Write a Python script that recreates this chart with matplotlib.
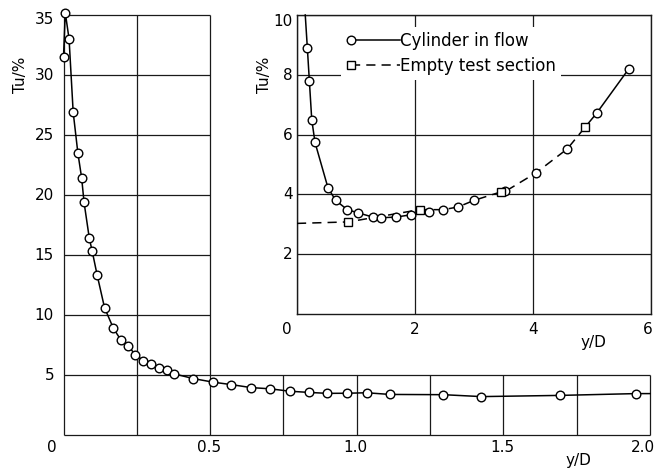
import numpy as np
import matplotlib
matplotlib.use("Agg")
import matplotlib.pyplot as plt
import matplotlib.transforms as mtransforms
from matplotlib.lines import Line2D
from matplotlib.legend_handler import HandlerLine2D

plt.rcParams['font.family'] = ['DejaVu Sans']
plt.rcParams['font.size'] = 11

# ---------------- data: main plot (Tu vs y/D) ----------------
main_x = [0.0, 0.006, 0.019, 0.033, 0.049, 0.062, 0.070, 0.088, 0.098, 0.115,
          0.140, 0.170, 0.196, 0.221, 0.245, 0.272, 0.298, 0.327, 0.354, 0.377,
          0.443, 0.511, 0.572, 0.640, 0.704, 0.771, 0.836, 0.900, 0.967, 1.034,
          1.113, 1.295, 1.425, 1.693, 1.952]
main_y = [31.5, 35.2, 33.0, 26.9, 23.5, 21.4, 19.4, 16.4, 15.3, 13.3,
          10.6, 8.9, 7.9, 7.4, 6.7, 6.2, 5.9, 5.55, 5.4, 5.1,
          4.7, 4.4, 4.2, 3.95, 3.85, 3.65, 3.55, 3.47, 3.48, 3.52,
          3.38, 3.36, 3.2, 3.3, 3.45]
main_curve_end_x = [2.0]
main_curve_end_y = [3.45]
main_xticks = [0, 0.5, 1.0, 1.5, 2.0]
main_xticklabels = ['0', '0.5', '1.0', '1.5', '2.0']
main_yticks = [5, 10, 15, 20, 25, 30, 35]
main_yticklabels = ['5', '10', '15', '20', '25', '30', '35']

# ---------------- data: inset ----------------
cyl_x = [0.175, 0.21, 0.25, 0.305, 0.525, 0.655, 0.852, 1.04, 1.29, 1.42, 1.67,
         1.94, 2.23, 2.48, 2.73, 3.0, 3.53, 4.05, 4.58, 5.08, 5.62]
cyl_y = [8.91, 7.78, 6.5, 5.74, 4.22, 3.8, 3.49, 3.38, 3.24, 3.22, 3.24,
         3.32, 3.41, 3.49, 3.58, 3.8, 4.1, 4.72, 5.52, 6.72, 8.19]
cyl_curve_top = (0.14, 10.0)      # where the solid curve enters the inset frame
empty_x = [0.87, 2.08, 3.45, 4.88]
empty_y = [3.08, 3.49, 4.08, 6.24]
empty_curve_start = (0.0, 3.03)   # dashed curve at the left edge
inset_xticks = [0, 2, 4, 6]
inset_xticklabels = ['0', '2', '4', '6']
inset_yticks = [2, 4, 6, 8, 10]
inset_yticklabels = ['2', '4', '6', '8', '10']

W, H = 660, 468
fig = plt.figure(figsize=(W / 100, H / 100), dpi=100)


def fig_px(x, y):
    return x / W, 1 - y / H


GRID_KW = dict(color='0.1', lw=0.9, clip_on=False, zorder=1)

# ---------------- main axes ----------------
ax = fig.add_axes([63.5 / W, 1 - 435 / H, 586.5 / W, 420 / H])
ax.set_xlim(0, 2)
ax.set_ylim(0, 35)
ax.axis('off')

# L-shaped frame + grid
ax.vlines([0, 0.25, 0.5], 0, 35, **GRID_KW)
ax.vlines([0.75, 1.0, 1.25, 1.5, 1.75, 2.0], 0, 5, **GRID_KW)
ax.hlines([10, 15, 20, 25, 30, 35], 0, 0.5, **GRID_KW)
ax.hlines([0, 5], 0, 2, **GRID_KW)

ax.plot(main_x + main_curve_end_x, main_y + main_curve_end_y, color='k',
        lw=1.1, zorder=3, clip_on=False)
ax.plot(main_x, main_y, ls='none', marker='o', ms=6.2, mfc='white', mec='k',
        mew=1.0, zorder=4, clip_on=False)

# tick labels (placed with small pixel offsets as in the reference)
xoff = [-11.5, -1.5, -1.5, -1.5, -7]
bt = mtransforms.blended_transform_factory(ax.transData, ax.transAxes)
for v, s, dx in zip(main_xticks, main_xticklabels, xoff):
    tr = bt + mtransforms.ScaledTranslation(dx / 100, -13 / 100, fig.dpi_scale_trans)
    ax.text(v, 0, s, transform=tr, ha='center', va='center')
yoff = [-1, -1, -1, -1, -1, -1, -5]
bl = mtransforms.blended_transform_factory(ax.transAxes, ax.transData)
for v, s, dy in zip(main_yticks, main_yticklabels, yoff):
    tr = bl + mtransforms.ScaledTranslation(-9.5 / 100, dy / 100, fig.dpi_scale_trans)
    ax.text(0, v, s, transform=tr, ha='right', va='center')

fig.text(*fig_px(20, 75), 'Tu/%', rotation=90, ha='center', va='center')
fig.text(*fig_px(578, 460), 'y/D', ha='center', va='center')

# ---------------- inset axes ----------------
ins = fig.add_axes([297 / W, 1 - 314 / H, 354 / W, 299 / H])
ins.set_facecolor('white')
ins.set_xlim(0, 6)
ins.set_ylim(0, 10)
ins.set_xticks(inset_xticks)
ins.set_yticks(inset_yticks)
ins.tick_params(length=0, labelbottom=False, labelleft=False)
ins.grid(True, color='0.1', lw=0.9)
for sp in ins.spines.values():
    sp.set_linewidth(1.0)
    sp.set_color('0.1')

cx = np.array(cyl_x)
cy = np.array(cyl_y)
ex = np.array(empty_x)
ey = np.array(empty_y)

# solid part of cylinder curve (near wake)
m1 = cx <= 2.25
ins.plot(np.r_[cyl_curve_top[0], cx[m1]], np.r_[cyl_curve_top[1], cy[m1]],
         color='k', lw=1.1, zorder=3, clip_on=False)
# dashed curve: empty section, merging with cylinder points in the middle
mx = (cx > 2.25) & (cx < 4.88)
dx_ = np.r_[empty_curve_start[0], ex, cx[mx]]
dy_ = np.r_[empty_curve_start[1], ey, cy[mx]]
order = np.argsort(dx_)
ins.plot(dx_[order], dy_[order], color='k', lw=1.1, ls=(0, (6, 4)), zorder=3)
# solid end part
m2 = cx > 4.88
ins.plot(np.r_[ex[-1], cx[m2]], np.r_[ey[-1], cy[m2]], color='k', lw=1.1, zorder=3)

ins.plot(cx, cy, ls='none', marker='o', ms=6.2, mfc='white', mec='k', mew=1.0,
         zorder=4, clip_on=False)
ins.plot(ex, ey, ls='none', marker='s', ms=6.2, mfc='white', mec='k', mew=1.0,
         zorder=5, clip_on=False)

bt2 = mtransforms.blended_transform_factory(ins.transData, ins.transAxes)
ixoff = [-10, 0, 0, -3]
for v, s, dx in zip(inset_xticks, inset_xticklabels, ixoff):
    tr = bt2 + mtransforms.ScaledTranslation(dx / 100, -15 / 100, fig.dpi_scale_trans)
    ins.text(v, 0, s, transform=tr, ha='center', va='center')
bl2 = mtransforms.blended_transform_factory(ins.transAxes, ins.transData)
iyoff = [0, 0, -1, -1, -6]
for v, s, dy in zip(inset_yticks, inset_yticklabels, iyoff):
    tr = bl2 + mtransforms.ScaledTranslation(-4.5 / 100, dy / 100, fig.dpi_scale_trans)
    ins.text(0, v, s, transform=tr, ha='right', va='center', clip_on=False)

fig.text(*fig_px(265, 75), 'Tu/%', rotation=90, ha='center', va='center')
fig.text(*fig_px(593, 342), 'y/D', ha='center', va='center')


class LeftMarkerHandler(HandlerLine2D):
    def create_artists(self, legend, orig_handle, xdescent, ydescent, width,
                       height, fontsize, trans):
        y = (height - ydescent) / 2
        r = orig_handle.get_markersize() / 2
        line = Line2D([-xdescent + r, -xdescent + width], [y, y])
        self.update_prop(line, orig_handle, legend)
        line.set_marker('None')
        mk = Line2D([-xdescent + r], [y])
        self.update_prop(mk, orig_handle, legend)
        mk.set_linestyle('None')
        line.set_transform(trans)
        mk.set_transform(trans)
        return [line, mk]


h1 = Line2D([], [], color='k', lw=1.1, marker='o', ms=6.2, mfc='white', mec='k')
h2 = Line2D([], [], color='k', lw=1.1, ls=(0, (6, 4)), marker='s', ms=6.2,
            mfc='white', mec='k')
hm = LeftMarkerHandler()
leg = ins.legend([h1, h2], ['Cylinder in flow', 'Empty test section'],
                 handler_map={h1: hm, h2: hm},
                 loc='upper left', bbox_to_anchor=(0.125, 0.96),
                 handlelength=3.2, handletextpad=0.05, borderpad=0.3,
                 labelspacing=0.4, frameon=True, fancybox=False,
                 framealpha=1, edgecolor='none', facecolor='white',
                 borderaxespad=0, fontsize=12)
leg.set_zorder(6)

fig.savefig('out.png', dpi=100)
